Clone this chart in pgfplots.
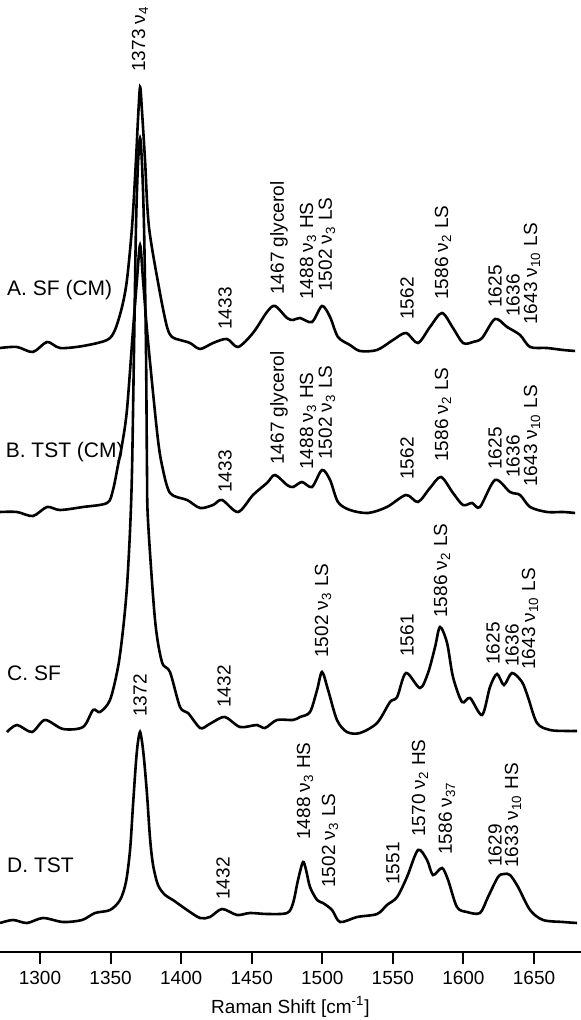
\documentclass[border=0pt]{standalone}
\usepackage{fontspec}
\setmainfont{Liberation Sans}
\usepackage{pgfplots}
\pgfplotsset{compat=1.18}
\pgfplotsset{spec/.style={black, no markers, line width=1.3pt, smooth, tension=0.5}}

% peak label: rotated, text starts at the given point
\newcommand{\pk}[3]{\node[rotate=90,anchor=west,inner sep=0pt,font=\fontsize{9.5}{11}\selectfont] at (axis cs:#1,#2) {#3};}
\newcommand{\nub}[1]{ν\textsubscript{#1}}

\begin{document}
\begin{tikzpicture}
\begin{axis}[
    width=290.5pt, height=476pt, scale only axis,
    xmin=1271.66, xmax=1683.3,
    ymin=0, ymax=952,
    clip=false,
    axis x line=bottom, axis y line=none,
    x axis line style={-, line width=1pt},
    xtick={1300,1350,...,1650},
    tick align=outside,
    major tick length=6pt,
    every tick/.style={black, line width=1pt},
    ticklabel style={font=\fontsize{9.5}{11}\selectfont},
    /pgf/number format/assume math mode=true,
    /pgf/number format/1000 sep={},
    xlabel={Raman Shift [cm\textsuperscript{-1}]},
    xlabel style={font=\fontsize{9.5}{11}\selectfont, yshift=1pt},
]

% A. SF (CM)
\addplot[spec] coordinates {
(1271.7,604) (1283.7,605) (1295.0,600) (1305.0,610) (1314.2,604) (1330.5,606) (1347.5,612) (1353.1,622) (1358.1,645) (1361.6,672) (1365.2,725) (1368.0,792) (1369.4,832) (1370.9,865) (1372.3,840) (1374.4,792) (1377.2,725) (1385.0,659) (1390.0,625) (1393.5,615) (1399.2,612) (1406.3,609) (1413.4,603) (1422.6,609) (1432.5,613) (1440.3,605) (1450.9,619) (1460.8,640) (1466.5,646) (1475.0,634) (1479.3,632) (1484.2,634) (1492.7,630) (1499.8,646) (1505.5,635) (1511.1,615) (1519.6,607) (1526.7,601) (1538.8,602) (1550.1,612) (1559.3,619) (1567.8,609) (1576.3,625) (1584.8,639) (1592.6,624) (1599.7,609) (1606.8,610) (1613.2,614) (1622.4,633) (1630.9,625) (1640.1,617) (1647.2,605) (1659.2,604) (1670.6,602) (1679.1,601)
};

% B. TST (CM)
\addplot[spec] coordinates {
(1271.7,440) (1283.7,440) (1295.0,436) (1305.0,445) (1314.2,442) (1330.5,445) (1347.5,449) (1351.7,462) (1355.3,487) (1358.1,507) (1361.6,542) (1365.9,622) (1368.7,672) (1370.9,707) (1373.0,672) (1375.8,622) (1380.1,559) (1383.6,512) (1386.4,487) (1392.1,459) (1404.2,452) (1413.4,444) (1422.6,447) (1429.0,452) (1440.3,440) (1450.9,457) (1460.8,469) (1466.5,477) (1475.0,467) (1479.3,465) (1485.6,470) (1492.7,465) (1499.8,482) (1505.5,472) (1511.1,450) (1519.6,442) (1532.4,439) (1545.8,445) (1559.3,457) (1567.8,450) (1576.3,464) (1584.1,475) (1592.6,459) (1599.7,447) (1606.1,449) (1611.7,445) (1622.4,472) (1633.0,460) (1640.1,457) (1647.2,445) (1659.2,440) (1670.6,440) (1679.1,439)
};

% C. SF
\addplot[spec] coordinates {
(1276.6,220) (1283.7,227) (1294.3,220) (1303.5,232) (1316.3,223) (1330.5,225) (1337.6,242) (1342.5,240) (1349.6,252) (1355.3,285) (1358.8,322) (1361.6,365) (1363.8,422) (1365.2,482) (1366.6,602) (1368.0,725) (1369.4,787) (1370.9,814) (1372.3,787) (1373.7,725) (1375.1,602) (1375.8,482) (1376.5,432) (1381.5,332) (1386.4,290) (1392.1,280) (1399.2,245) (1404.9,239) (1413.4,224) (1419.0,227) (1422.6,230) (1431.1,235) (1441.7,225) (1453.7,227) (1459.4,224) (1467.9,232) (1479.3,232) (1484.2,235) (1491.3,240) (1496.3,262) (1499.8,280) (1504.1,262) (1510.4,232) (1517.5,220) (1526.7,219) (1538.8,229) (1548.0,250) (1553.0,255) (1559.3,279) (1569.2,264) (1574.9,279) (1579.9,305) (1583.4,325) (1588.4,309) (1592.6,275) (1599.0,250) (1604.7,254) (1613.2,237) (1618.8,265) (1623.8,278) (1628.7,267) (1634.4,279) (1641.5,270) (1645.7,255) (1652.1,229) (1661.3,222) (1673.4,221) (1680.5,221)
};

% D. TST
\addplot[spec] coordinates {
(1271.7,29) (1280.9,32) (1290.8,29) (1302.1,34) (1316.3,30) (1329.8,32) (1339.0,39) (1349.6,42) (1356.7,52) (1360.9,70) (1363.8,102) (1365.9,147) (1368.0,190) (1369.4,210) (1370.9,220) (1372.3,210) (1373.7,193) (1375.8,158) (1378.0,113) (1380.1,87) (1383.6,67) (1388.6,57) (1394.2,52) (1404.2,42) (1413.4,34) (1420.4,35) (1429.0,43) (1439.6,37) (1448.8,39) (1460.8,38) (1475.0,39) (1479.3,49) (1482.8,72) (1486.3,90) (1488.5,82) (1491.3,65) (1496.3,52) (1500.5,49) (1506.9,42) (1512.6,30) (1524.6,35) (1538.8,38) (1545.8,47) (1553.0,55) (1560.0,75) (1567.8,102) (1574.2,92) (1578.4,77) (1584.8,84) (1589.1,72) (1595.4,45) (1602.5,40) (1611.7,39) (1617.4,55) (1624.5,75) (1628.7,78) (1633.0,77) (1638.7,65) (1647.2,42) (1656.4,32) (1670.6,30) (1680.5,29)
};

% spectrum names
\node[anchor=west,inner sep=0pt,font=\fontsize{10.5}{12}\selectfont] at (axis cs:1276.5,662) {A. SF (CM)};
\node[anchor=west,inner sep=0pt,font=\fontsize{10.5}{12}\selectfont] at (axis cs:1275.5,500) {B. TST (CM)};
\node[anchor=west,inner sep=0pt,font=\fontsize{10.5}{12}\selectfont] at (axis cs:1276.5,279) {C. SF};
\node[anchor=west,inner sep=0pt,font=\fontsize{10.5}{12}\selectfont] at (axis cs:1276.5,87) {D. TST};

% A labels
\pk{1370.9}{880}{1373 \nub{4}}
\pk{1431.1}{622}{1433}
\pk{1469.3}{657}{1467 glycerol}
\pk{1489.9}{652}{1488 \nub{3} HS}
\pk{1503.3}{660}{1502 \nub{3} LS}
\pk{1560.0}{632}{1562}
\pk{1585.5}{652}{1586 \nub{2} LS}
\pk{1622.4}{644}{1625}
\pk{1635.1}{635}{1636}
\pk{1648.6}{627}{1643 \nub{10} LS}

% B labels
\pk{1431.1}{459}{1433}
\pk{1469.3}{487}{1467 glycerol}
\pk{1489.9}{482}{1488 \nub{3} HS}
\pk{1503.3}{492}{1502 \nub{3} LS}
\pk{1560.0}{472}{1562}
\pk{1585.5}{490}{1586 \nub{2} LS}
\pk{1622.4}{482}{1625}
\pk{1635.1}{474}{1636}
\pk{1648.6}{465}{1643 \nub{10} LS}

% C labels
\pk{1430.4}{244}{1432}
\pk{1500.5}{294}{1502 \nub{3} LS}
\pk{1560.0}{295}{1561}
\pk{1584.8}{334}{1586 \nub{2} LS}
\pk{1621.0}{287}{1625}
\pk{1634.4}{285}{1636}
\pk{1647.2}{282}{1643 \nub{10} LS}

% D labels
\pk{1370.9}{235}{1372}
\pk{1429.7}{52}{1432}
\pk{1487.8}{112}{1488 \nub{3} HS}
\pk{1505.5}{64}{1502 \nub{3} LS}
\pk{1550.1}{67}{1551}
\pk{1569.2}{115}{1570 \nub{2} HS}
\pk{1588.3}{97}{1586 \nub{37}}
\pk{1622.4}{85}{1629}
\pk{1635.1}{84}{1633 \nub{10} HS}

\end{axis}
\pgfresetboundingbox
\path[use as bounding box] (0,-34pt) rectangle (290.5pt,476pt);
\end{tikzpicture}
\end{document}
